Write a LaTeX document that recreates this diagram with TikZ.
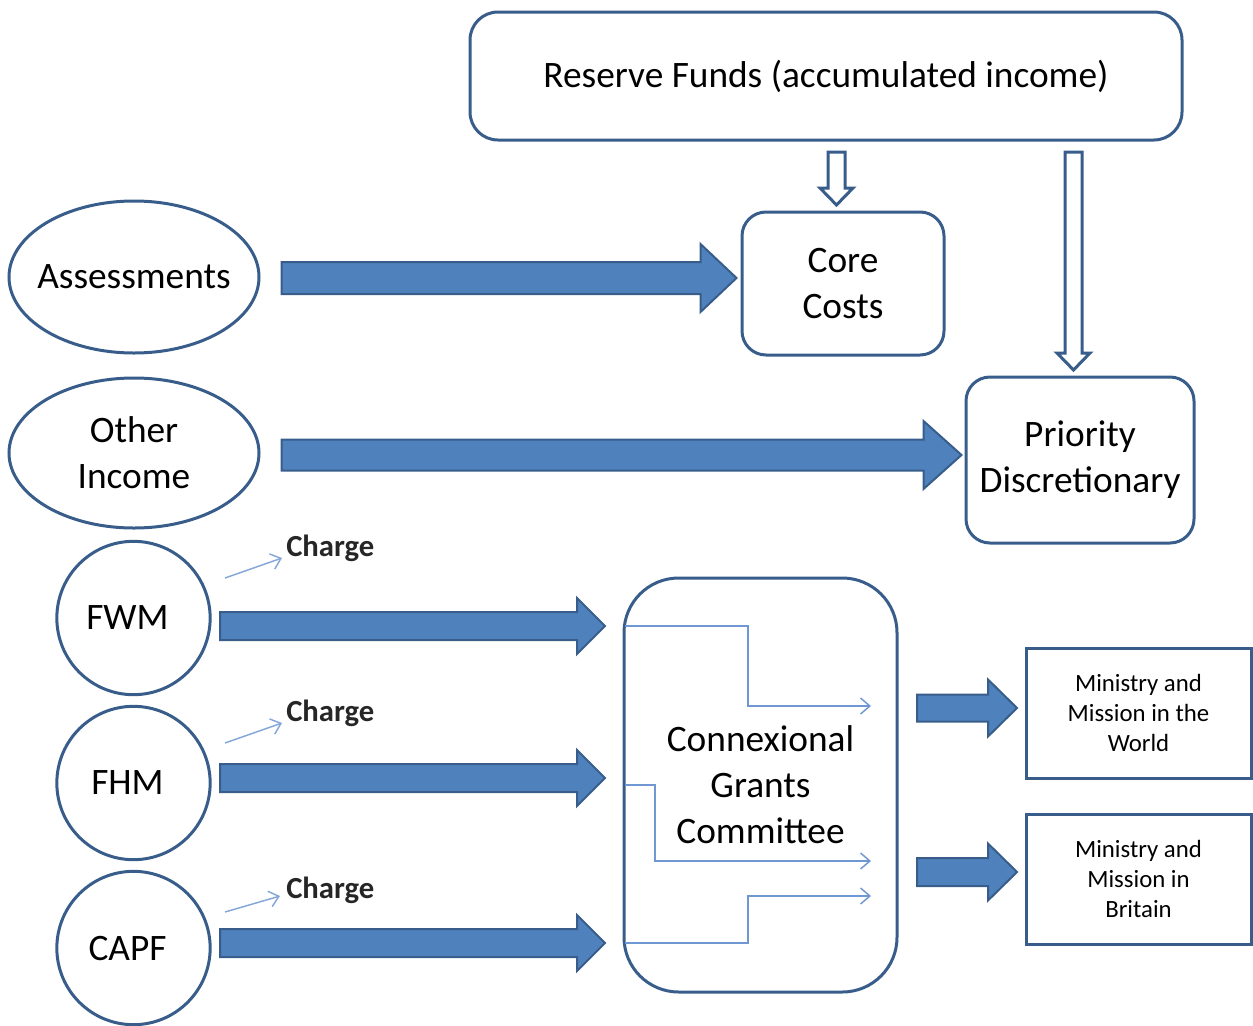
\documentclass[tikz,border=0pt]{standalone}
\usepackage{fontspec}
\setmainfont{Carlito}
\usetikzlibrary{arrows.meta,calc,shapes.geometric}
\definecolor{bfill}{HTML}{4F81BD}
\definecolor{bline}{HTML}{385D8A}
\definecolor{thinblue}{HTML}{6F97D1}
\newcommand\bigtxt{\fontsize{28}{34.5}\selectfont}
\newcommand\smalltxt{\fontsize{18.6}{22.5}\selectfont}
\newcommand\chargetxt{\fontsize{23}{28}\selectfont\bfseries}
% right-pointing block arrow: style, start, length, shaft half, head half, head length
\newcommand\blockR[6]{\draw[#1,shift={(#2)}] (0,-#4) -- ({#3-#6},-#4) -- ({#3-#6},-#5) -- (#3,0) -- ({#3-#6},#5) -- ({#3-#6},#4) -- (0,#4) -- cycle;}
% down-pointing block arrow
\newcommand\blockD[6]{\draw[#1,shift={(#2)}] (-#4,0) -- (-#4,{#3-#6}) -- (-#5,{#3-#6}) -- (0,#3) -- (#5,{#3-#6}) -- (#4,{#3-#6}) -- (#4,0) -- cycle;}
\begin{document}
\begin{tikzpicture}[x=0.75pt,y=-0.75pt,
  rbox/.style={draw=bline, line width=2.25pt, align=center, inner sep=0pt, font=\bigtxt},
  ell/.style={ellipse, draw=bline, line width=2.25pt, align=center, inner xsep=-30pt, inner ysep=-10pt, font=\bigtxt},
  circ/.style={circle, draw=bline, line width=2.25pt, align=center, inner sep=0pt, minimum size=115pt, font=\bigtxt},
  sqbox/.style={draw=bline, line width=2.25pt, align=center, inner sep=0pt, font=\smalltxt, minimum width=168.75pt, minimum height=97.5pt},
  solidarr/.style={fill=bfill, draw=bline, line width=1.5pt, line join=miter},
  hollowarr/.style={fill=white, draw=bline, line width=2.25pt, line join=miter},
  thinarr/.style={draw=thinblue, line width=1.1pt, -{Straight Barb[length=7pt,width=12pt]}},
  chargelbl/.style={anchor=west, inner sep=0pt, font=\chargetxt, text=black!85}
]
\useasboundingbox (0,0) rectangle (1253,1025);

% nodes
\node[rbox, rounded corners=21pt, minimum width=534pt, minimum height=96pt] (res) at (826,76) {Reserve Funds (accumulated income)};
\node[rbox, rounded corners=18pt, minimum width=151.5pt, minimum height=107.25pt] (core) at (843,283.5) {Core\\Costs};
\node[rbox, rounded corners=18pt, minimum width=171pt, minimum height=124.5pt] (prio) at (1080,460) {Priority\\Discretionary};
\node[ell, minimum width=187.5pt, minimum height=114pt] (ass) at (134,277) {Assessments};
\node[ell, minimum width=187.5pt, minimum height=112.5pt] (oth) at (134,453) {Other\\Income};
\node[circ] (fwm) at (133.5,618) {FWM\hspace*{9pt}};
\node[circ] (fhm) at (133.5,783) {FHM\hspace*{9pt}};
\node[circ] (capf) at (133.5,948) {CAPF\hspace*{9pt}};
\node[rbox, rounded corners=41pt, minimum width=204.75pt, minimum height=310.5pt] (cgc) at (760.5,785) {Connexional\\Grants\\Committee};
\node[sqbox] (mmw) at (1138.5,713) {Ministry and\\Mission in the\\World};
\node[sqbox] (mmb) at (1138.5,879) {Ministry and\\Mission in\\Britain};

% charge labels
\node[chargelbl] (ch1) at (286,548) {Charge};
\node[chargelbl] (ch2) at (286,713) {Charge};
\node[chargelbl] (ch3) at (286,890) {Charge};

% hollow arrows from reserve funds
\coordinate (h1) at (836.5,152);
\coordinate (h2) at (1073.5,152);
\blockD{hollowarr}{h1}{53}{8.5}{16.5}{17}
\blockD{hollowarr}{h2}{218}{8.5}{16.5}{17}

% solid block arrows
\coordinate (a1) at ($(ass.east)+(21,1)$);
\coordinate (a2) at ($(oth.east)+(21,2)$);
\coordinate (a3) at (220,626);
\coordinate (a4) at (220,778);
\coordinate (a5) at (220,943);
\coordinate (a6) at (917,708);
\coordinate (a7) at (917,872);
\blockR{solidarr}{a1}{455}{16}{34}{36}
\blockR{solidarr}{a2}{680}{15.5}{34}{38}
\blockR{solidarr}{a3}{385}{14}{28}{28}
\blockR{solidarr}{a4}{385}{14}{28}{28}
\blockR{solidarr}{a5}{385}{14}{28}{28}
\blockR{solidarr}{a6}{100}{13.5}{28.5}{29}
\blockR{solidarr}{a7}{100}{14}{28.5}{29}

% charge arrows
\coordinate (c1) at (225,578);
\coordinate (c2) at (225,743);
\coordinate (c3) at (225,912);
\draw[thinarr, draw=thinblue!85] (c1) -- ($(ch1.west)+(-4,10)$);
\draw[thinarr, draw=thinblue!85] (c2) -- ($(ch2.west)+(-4,10)$);
\draw[thinarr, draw=thinblue!85] (c3) -- ($(ch3.west)+(-6,6)$);

% lines inside the grants committee
\coordinate (g1) at (625,626);
\coordinate (g2) at (625,785);
\coordinate (g3) at (625,943);
\coordinate (t1) at (871,706);
\coordinate (t2) at (871,861);
\coordinate (t3) at (871,896);
\draw[thinarr] (g1) -- (748,626) -- (748,706) -- (t1);
\draw[thinarr] (g2) -- (655,785) -- (655,861) -- (t2);
\draw[thinarr] (g3) -- (748,943) -- (748,896) -- (t3);
\end{tikzpicture}
\end{document}
